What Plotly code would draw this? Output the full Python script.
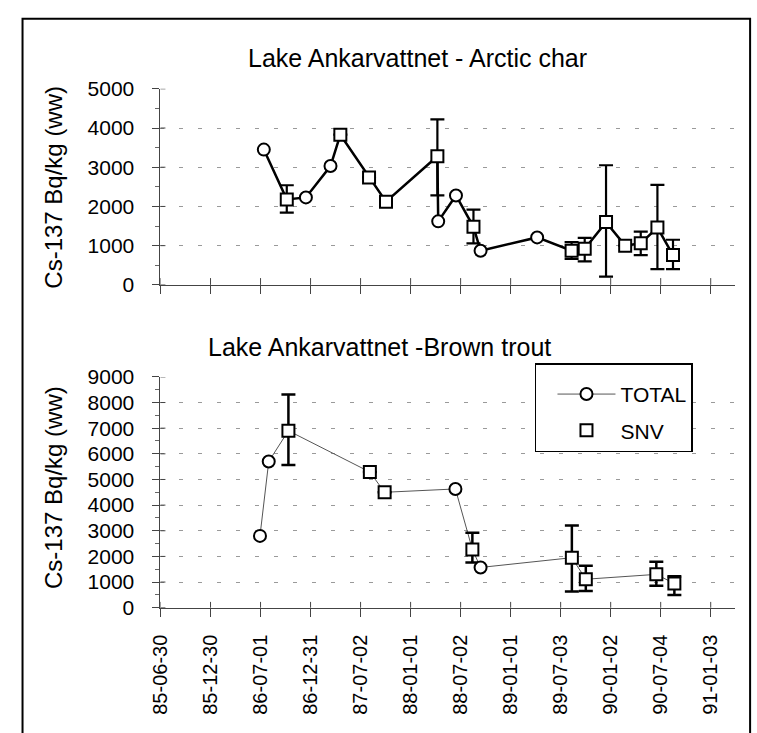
import plotly.graph_objects as go

# ---------------- data ----------------
TICK_DATES = ["1985-06-30", "1985-12-30", "1986-07-01", "1986-12-31", "1987-07-02",
              "1988-01-01", "1988-07-02", "1989-01-01", "1989-07-03", "1990-01-02",
              "1990-07-04", "1991-01-03"]
TICK_LABELS = [d[2:] for d in TICK_DATES]
X_RANGE = ["1985-06-30", "1991-04-03"]

# Arctic char
CHAR_TOTAL_DATES = ["1986-07-13", "1986-12-14", "1987-03-14", "1988-04-11",
                    "1988-06-15", "1988-09-13", "1989-04-08"]
CHAR_TOTAL_VALUES = [3450, 2230, 3030, 1620, 2280, 870, 1210]

CHAR_SNV_DATES = ["1986-10-05", "1987-04-19", "1987-08-02", "1987-10-03", "1988-04-08",
                  "1988-08-18", "1989-08-12", "1989-09-29", "1989-12-16", "1990-02-24",
                  "1990-04-22", "1990-06-22", "1990-08-18"]
CHAR_SNV_VALUES = [2180, 3830, 2740, 2120, 3280, 1480, 870, 920, 1600, 1000, 1060, 1460, 760]
CHAR_SNV_HIGH = [2540, None, None, None, 4220, 1920, 1090, 1200, 3050, None, 1360, 2550, 1150]
CHAR_SNV_LOW = [1840, None, None, None, 2280, 1060, 660, 600, 210, None, 760, 400, 400]

# Brown trout
TROUT_TOTAL_DATES = ["1986-06-29", "1986-07-31", "1988-06-13", "1988-09-13"]
TROUT_TOTAL_VALUES = [2800, 5700, 4630, 1570]

TROUT_SNV_DATES = ["1986-10-11", "1987-08-05", "1987-09-28", "1988-08-14",
                   "1989-08-13", "1989-10-03", "1990-06-18", "1990-08-23"]
TROUT_SNV_VALUES = [6900, 5290, 4500, 2270, 1950, 1110, 1300, 940]
TROUT_SNV_HIGH = [8310, None, None, 2920, 3210, 1640, 1790, 1230]
TROUT_SNV_LOW = [5560, None, None, 1760, 630, 650, 860, 500]

TOP_TITLE = "Lake Ankarvattnet - Arctic char"
BOTTOM_TITLE = "Lake Ankarvattnet -Brown trout"
Y_TITLE = "Cs-137 Bq/kg (ww)"

# ---------------- helpers ----------------
W, H = 757, 733
FONT = "Liberation Sans, Arial, Helvetica, sans-serif"


def fx(p):
    return p / W


def fy(p):
    return 1 - p / H


def merged(d1, v1, d2, v2):
    pts = sorted(list(zip(d1, v1)) + list(zip(d2, v2)))
    return [p[0] for p in pts], [p[1] for p in pts]


def err_plus(vals, hi):
    return [None if h is None else h - v for v, h in zip(vals, hi)]


def err_minus(vals, lo):
    return [None if l is None else v - l for v, l in zip(vals, lo)]


fig = go.Figure()

circle = dict(symbol="circle", size=12, color="white", line=dict(color="black", width=2))
square = dict(symbol="square", size=12, color="white", line=dict(color="black", width=2))

# ---- top panel ----
lx, ly = merged(CHAR_TOTAL_DATES, CHAR_TOTAL_VALUES, CHAR_SNV_DATES, CHAR_SNV_VALUES)
fig.add_trace(go.Scatter(x=lx, y=ly, mode="lines", line=dict(color="black", width=2.5),
                         showlegend=False, xaxis="x", yaxis="y", hoverinfo="skip"))
fig.add_trace(go.Scatter(x=CHAR_SNV_DATES, y=CHAR_SNV_VALUES, mode="markers", marker=square,
                         error_y=dict(type="data", symmetric=False,
                                      array=err_plus(CHAR_SNV_VALUES, CHAR_SNV_HIGH),
                                      arrayminus=err_minus(CHAR_SNV_VALUES, CHAR_SNV_LOW),
                                      color="black", thickness=2.2, width=7),
                         showlegend=False, xaxis="x", yaxis="y"))
fig.add_trace(go.Scatter(x=CHAR_TOTAL_DATES, y=CHAR_TOTAL_VALUES, mode="markers", marker=circle,
                         showlegend=False, xaxis="x", yaxis="y"))

# ---- bottom panel ----
lx2, ly2 = merged(TROUT_TOTAL_DATES, TROUT_TOTAL_VALUES, TROUT_SNV_DATES, TROUT_SNV_VALUES)
fig.add_trace(go.Scatter(x=lx2, y=ly2, mode="lines", line=dict(color="#555555", width=1),
                         showlegend=False, xaxis="x2", yaxis="y2", hoverinfo="skip"))
fig.add_trace(go.Scatter(x=TROUT_SNV_DATES, y=TROUT_SNV_VALUES, mode="markers", marker=square,
                         error_y=dict(type="data", symmetric=False,
                                      array=err_plus(TROUT_SNV_VALUES, TROUT_SNV_HIGH),
                                      arrayminus=err_minus(TROUT_SNV_VALUES, TROUT_SNV_LOW),
                                      color="black", thickness=2.5, width=7),
                         showlegend=False, xaxis="x2", yaxis="y2"))
fig.add_trace(go.Scatter(x=TROUT_TOTAL_DATES, y=TROUT_TOTAL_VALUES, mode="markers", marker=circle,
                         showlegend=False, xaxis="x2", yaxis="y2"))

# legend entries
fig.add_trace(go.Scatter(x=[None], y=[None], mode="lines+markers", name="TOTAL",
                         line=dict(color="#555555", width=1), marker=circle,
                         legendgroup="a", xaxis="x2", yaxis="y2"))
fig.add_trace(go.Scatter(x=[None], y=[None], mode="markers", name="SNV", marker=square,
                         legendgroup="b", xaxis="x2", yaxis="y2"))

XDOM = [fx(151.7), fx(735)]
common_x = dict(type="date", range=X_RANGE, tickvals=TICK_DATES, ticktext=TICK_LABELS,
                showgrid=False, zeroline=False, showline=True, linecolor="#444444", linewidth=1,
                ticks="outside", ticklen=8, tickcolor="#444444", tickwidth=1,
                tickangle=-90, tickfont=dict(family=FONT, size=20, color="black"),
                ticklabelstandoff=10)
common_y = dict(showgrid=True, gridcolor="#9a9a9a", griddash="4px,15px", gridwidth=1,
                zeroline=False, showline=True, linecolor="#444444", linewidth=1,
                ticks="outside", ticklen=7, tickcolor="#444444", tickwidth=1,
                dtick=1000, tick0=0,
                minor=dict(dtick=500, ticks="outside", ticklen=4, tickcolor="#666666", showgrid=False),
                tickfont=dict(family=FONT, size=21, color="black"),
                ticklabelstandoff=14)

fig.update_layout(
    width=W, height=H, margin=dict(l=0, r=0, t=0, b=0),
    paper_bgcolor="white", plot_bgcolor="white",
    xaxis=dict(domain=XDOM, anchor="y", showticklabels=False, **common_x),
    yaxis=dict(domain=[fy(281.7), fy(79.3)], anchor="x", range=[0, 5000], **common_y),
    xaxis2=dict(domain=XDOM, anchor="y2", **common_x),
    yaxis2=dict(domain=[fy(615), fy(376.7)], anchor="x2", range=[0, 9000], **common_y),
    showlegend=True,
    legend=dict(x=fx(531.7), y=fy(362.7), xanchor="left", yanchor="top",
                bordercolor="black", borderwidth=1.5, bgcolor="white",
                font=dict(family=FONT, size=21, color="black"),
                traceorder="grouped", tracegroupgap=6, itemwidth=58, indentation=16,
                entrywidth=110,
                title=dict(text=" ", font=dict(size=7))),
    font=dict(family=FONT, color="black"),
)

annotations = [
    dict(text=TOP_TITLE, x=fx(412), y=fy(47), xref="paper", yref="paper", showarrow=False,
         xanchor="center", yanchor="middle", font=dict(family=FONT, size=25, color="black")),
    dict(text=BOTTOM_TITLE, x=fx(373.5), y=fy(346), xref="paper", yref="paper", showarrow=False,
         xanchor="center", yanchor="middle", font=dict(family=FONT, size=25, color="black")),
    dict(text=Y_TITLE, x=fx(43), y=fy(181), xref="paper", yref="paper", showarrow=False,
         textangle=-90, xanchor="center", yanchor="middle", font=dict(family=FONT, size=24, color="black")),
    dict(text=Y_TITLE, x=fx(43), y=fy(491), xref="paper", yref="paper", showarrow=False,
         textangle=-90, xanchor="center", yanchor="middle", font=dict(family=FONT, size=24, color="black")),
]
fig.update_layout(annotations=annotations)

shapes = []
# inner halves of the crossing axis ticks
for xa, ya, frac in (("x", "y", 7 / 202.4), ("x2", "y2", 6 / 238.3)):
    for d in TICK_DATES:
        shapes.append(dict(type="line", xref=xa, yref=ya + " domain", x0=d, x1=d, y0=0, y1=frac,
                           line=dict(color="#444444", width=1)))
for xa, ya, top in (("x", "y", 5000), ("x2", "y2", 9000)):
    for v in range(0, top + 1, 1000):
        shapes.append(dict(type="line", xref=xa + " domain", yref=ya, x0=0, x1=5 / 583.3, y0=v, y1=v,
                           line=dict(color="#444444", width=1)))
# outer frame
shapes.append(dict(type="rect", xref="paper", yref="paper", x0=fx(11.7), x1=fx(750),
                   y0=-0.05, y1=fy(7), line=dict(color="black", width=2)))
fig.update_layout(shapes=shapes)

fig.write_html("out.html")
